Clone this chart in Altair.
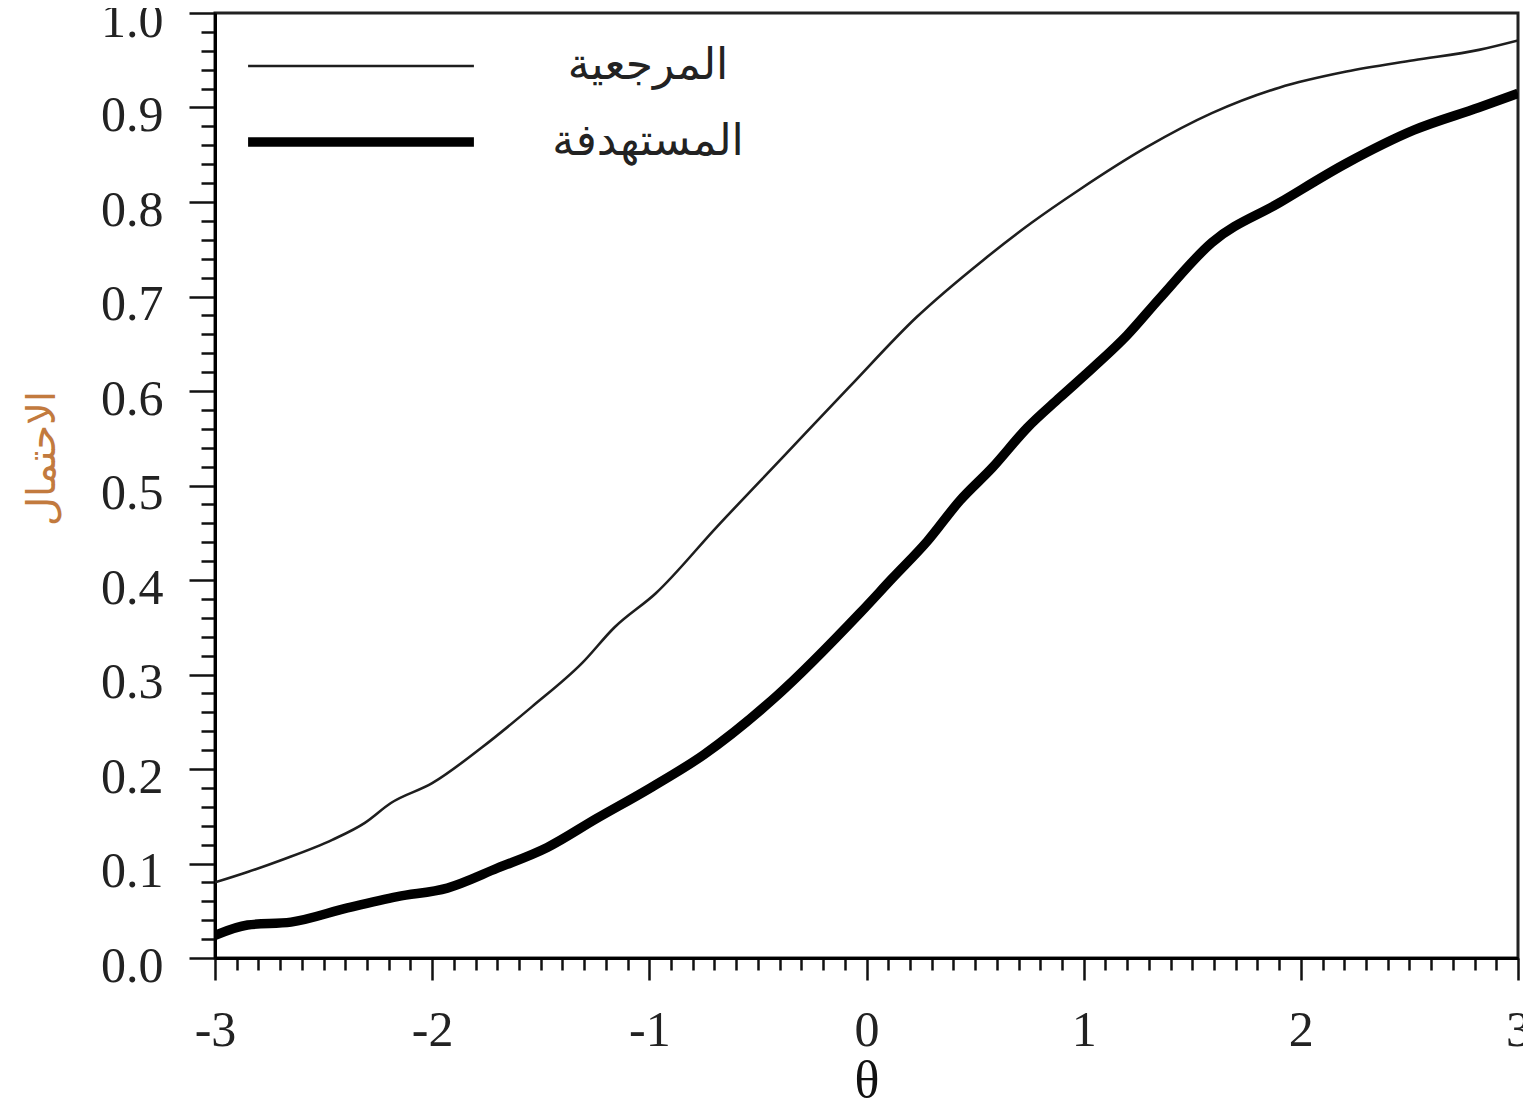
import altair as alt
import pandas as pd

# Reference group curve (thin line)
theta_ref = [-3.00, -2.85, -2.69, -2.46, -2.31, -2.19, -2.00, -1.77, -1.54, -1.31, -1.16, -0.97,
             -0.69, -0.385, -0.08, 0.23, 0.54, 0.76, 0.98, 1.29, 1.59, 1.90, 2.21, 2.52, 2.82, 3.00]
p_ref = [0.080, 0.091, 0.104, 0.125, 0.143, 0.164, 0.185, 0.223, 0.266, 0.312, 0.350, 0.386,
         0.456, 0.530, 0.604, 0.678, 0.739, 0.778, 0.813, 0.858, 0.894, 0.921, 0.938, 0.950, 0.961, 0.971]

# Focal group curve (thick line)
theta_foc = [-3.00, -2.85, -2.65, -2.39, -2.16, -1.93, -1.70, -1.47, -1.24, -1.01, -0.75, -0.41,
             -0.03, 0.12, 0.28, 0.43, 0.58, 0.74, 0.89, 1.04, 1.20, 1.35, 1.59, 1.90, 2.21, 2.52, 2.82, 3.00]
p_foc = [0.024, 0.035, 0.038, 0.053, 0.065, 0.074, 0.095, 0.117, 0.148, 0.178, 0.215, 0.278,
         0.365, 0.402, 0.441, 0.484, 0.519, 0.561, 0.593, 0.624, 0.659, 0.698, 0.757, 0.799, 0.841, 0.876, 0.900, 0.915]

groups = ["المرجعية", "المستهدفة"]
x_title = "θ"
y_title = "الاحتمال"

x_ticks = [round(-3 + 0.1 * i, 1) for i in range(61)]
y_ticks = [round(0.02 * i, 2) for i in range(51)]

df = pd.concat([
    pd.DataFrame({"theta": theta_ref, "p": p_ref, "group": groups[0], "order": range(len(theta_ref))}),
    pd.DataFrame({"theta": theta_foc, "p": p_foc, "group": groups[1], "order": range(len(theta_foc))}),
])

x_major = "abs(datum.value - round(datum.value)) < 1e-6"
y_major = "abs(datum.value * 10 - round(datum.value * 10)) < 1e-6"

x_axis = alt.Axis(
    values=x_ticks,
    labelExpr=f"({x_major}) ? (datum.value < 0 ? '-' + abs(round(datum.value)) : '' + round(datum.value)) : ''",
    tickSize={"condition": {"test": x_major, "value": 22}, "value": 12},
    tickWidth=2.5, tickColor="#111",
    domainColor="#000", domainWidth=3,
    labelFont="Liberation Serif", labelFontSize=50, labelColor="#222",
    labelPadding=25, labelOverlap=False, labelFlush=False, labelBound=False,
    grid=False,
    titleFont="Liberation Serif", titleFontSize=52, titleFontWeight="normal",
    titleColor="#111", titleY=97, titleBaseline="top",
)

y_axis = alt.Axis(
    values=y_ticks,
    labelExpr=f"({y_major}) ? format(datum.value, '.1f') : ''",
    tickSize={"condition": {"test": y_major, "value": 26}, "value": 14},
    tickWidth=2.5, tickColor="#111",
    domainColor="#000", domainWidth=3,
    labelFont="Liberation Serif", labelFontSize=50, labelColor="#222",
    labelPadding=26, labelOffset=8, labelOverlap=False, labelFlush=False, labelBound=False,
    grid=False,
    titleFont="DejaVu Sans", titleFontSize=40, titleFontWeight="normal",
    titleColor="#c27a3e", titleX=-153, titleY=445, titleAngle=270,
)

legend = alt.Legend(
    title=None, orient="none", legendX=124, legendY=31,
    symbolType="M-10,0H10", symbolSize=510,
    labelFont="DejaVu Sans", labelFontSize=44, labelColor="#222",
    labelOffset=265, labelAlign="center", labelLimit=0,
    rowPadding=32, padding=0,
)

chart = alt.Chart(df).mark_line(interpolate="monotone", clip=True).encode(
    x=alt.X("theta:Q", scale=alt.Scale(domain=[-3, 3], nice=False, zero=False), axis=x_axis, title=x_title),
    y=alt.Y("p:Q", scale=alt.Scale(domain=[0, 1], nice=False, zero=False), axis=y_axis, title=y_title),
    color=alt.Color("group:N", scale=alt.Scale(domain=groups, range=["#1e1e1e", "#000000"]), legend=legend),
    strokeWidth=alt.StrokeWidth("group:N", scale=alt.Scale(domain=groups, range=[2.6, 9.5]), legend=legend),
    order="order:Q",
).properties(
    width=1303, height=945,
    padding={"left": 207, "top": 5, "right": 5, "bottom": 140},
    autosize=alt.AutoSizeParams(type="none"),
    background="white",
).configure_view(stroke="#222", strokeWidth=3)

chart.save("out.html", embed_options={"renderer": "svg", "actions": False})
